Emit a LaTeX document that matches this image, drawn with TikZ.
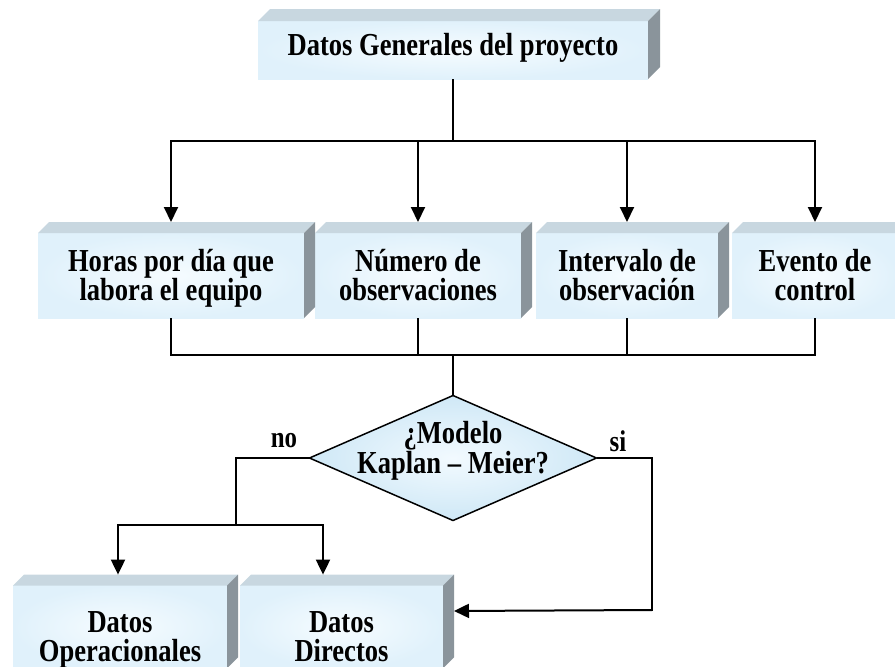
\documentclass[tikz,border=0pt]{standalone}
\usepackage{fontspec}
\setmainfont{Liberation Serif}[FakeStretch=0.83]
\usetikzlibrary{arrows.meta,shapes.geometric,calc}

\definecolor{frontA}{HTML}{F6FCFF}
\definecolor{frontB}{HTML}{E0F1FB}
\definecolor{topface}{HTML}{C8D7E0}
\definecolor{sideface}{HTML}{8A949B}
\definecolor{diaA}{HTML}{F2FAFF}
\definecolor{diaB}{HTML}{CFE8F6}

\newcommand\firstl{\rule{0pt}{27pt}\vphantom{p}}
\newcommand\firstlow{\rule{0pt}{47pt}\vphantom{p}}
\newcommand\lastl{\vphantom{p}}

\tikzset{
  txt/.style={align=center, inner sep=0pt, font=\bfseries\fontsize{32}{29}\selectfont},
  box3d/.style={txt, rectangle, outer sep=0pt, minimum height=85pt, inner color=frontA, outer color=frontB},
  lbl/.style={inner sep=0pt, font=\bfseries\fontsize{30}{30}\selectfont},
  line/.style={line width=2pt, black},
  arr/.style={line, -{Triangle[length=15pt,width=14pt]}},
  dec/.style={diamond, draw=black, line width=1.5pt, inner sep=0pt, outer sep=0pt, inner color=diaA, outer color=diaB}
}

\begin{document}
\lineskiplimit=-100pt\relax
\begin{tikzpicture}[x=1pt,y=-1pt]
\useasboundingbox (0,0) rectangle (895,667);

% boxes
\node[box3d, minimum width=390pt, minimum height=58pt, text height=17pt, text depth=7pt] (top) at (453,50) {Datos Generales del proyecto};
\node[box3d, minimum width=266pt] (horas) at (171,275.5) {\firstl Horas por día que\\\lastl labora el equipo};
\node[box3d, minimum width=206pt] (num) at (418,275.5) {\firstl Número de\\\lastl observaciones};
\node[box3d, minimum width=182pt] (int) at (627,275.5) {\firstl Intervalo de\\\lastl observación};
\node[box3d, minimum width=166pt] (evt) at (815,275.5) {\firstl Evento de\\\lastl control};
\node[box3d, minimum width=214pt, minimum height=82pt] (oper) at (120,627) {\firstlow Datos\\\lastl Operacionales};
\node[box3d, minimum width=203pt, minimum height=82pt] (dir) at (341.5,627) {\firstlow Datos\\\lastl Directos};

% 3D faces
\foreach \n/\d in {top/12,horas/11,num/11,int/11,evt/11,oper/11,dir/11}{
  \fill[topface] (\n.north west) -- ([shift={(\d pt,\d pt)}]\n.north west)
     -- ([shift={(\d pt,\d pt)}]\n.north east) -- (\n.north east) -- cycle;
  \fill[sideface] (\n.north east) -- ([shift={(\d pt,\d pt)}]\n.north east)
     -- ([shift={(\d pt,\d pt)}]\n.south east) -- (\n.south east) -- cycle;
}

% decision
\node[dec, minimum width=287pt, minimum height=125pt] (q) at (453,458) {};
\node[txt, font=\bfseries\fontsize{32}{30}\selectfont] (qt) at (453,448) {\firstl ¿Modelo\\\lastl Kaplan – Meier?};
\node[lbl] (no) at (284,441) {no};
\node[lbl] (si) at (618,441) {si};

% top distribution
\coordinate (t1) at (453,141);
\draw[line] (top.south) -- (t1);
\draw[line] ([xshift=-1pt]horas.north |- t1) -- ([xshift=1pt]evt.north |- t1);
\foreach \n in {horas,num,int,evt}{
  \draw[arr] (\n.north |- t1) -- ([yshift=11pt]\n.north);
}

% bottom collection
\coordinate (b1) at (453,355);
\foreach \n in {horas,num,int,evt}{
  \draw[line] (\n.south) -- (\n.south |- b1);
}
\draw[line] ([xshift=-1pt]horas.south |- b1) -- ([xshift=1pt]evt.south |- b1);
\draw[line] (b1) -- (q.north);

% no branch
\coordinate (lb) at (236,525);
\coordinate (a1) at (118,525);
\coordinate (a2) at (323,525);
\coordinate (opertop) at ([yshift=11pt]oper.north);
\coordinate (dirtop) at ([yshift=11pt]dir.north);
\draw[line] (q.west) -| (lb);
\draw[line] ([xshift=-1pt]a1) -- ([xshift=1pt]a2);
\draw[arr] (a1) -- (a1 |- opertop);
\draw[arr] (a2) -- (a2 |- dirtop);

% si branch
\coordinate (rb) at (652,611);
\coordinate (dirside) at ([xshift=11pt]dir.east);
\draw[line] (q.east) -| (rb);
\draw[arr] ([yshift=1pt]rb) -- (rb -| dirside);
\end{tikzpicture}
\end{document}
